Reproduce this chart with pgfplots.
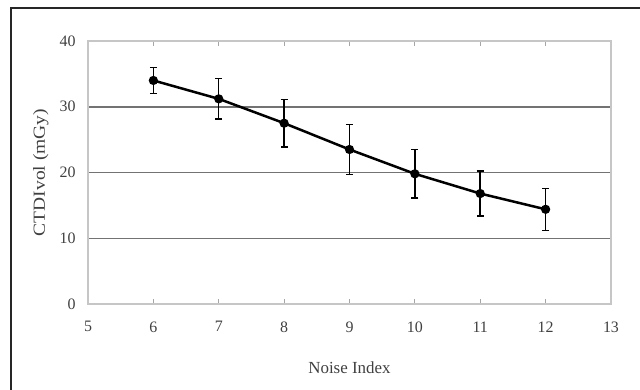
\documentclass[border=0pt]{standalone}
\usepackage{pgfplots}
\pgfplotsset{compat=1.18}
\usepackage{fontspec}
\setmainfont{Liberation Serif}
\begin{document}
\begin{tikzpicture}
\begin{axis}[
  anchor=south west, at={(0bp,0bp)},
  scale only axis, width=523bp, height=263bp,
  xmin=5, xmax=13, ymin=0, ymax=40,
  xtick={5,...,13}, ytick={0,10,...,40},
  ymajorgrids,
  grid style={black!55, line width=1.5bp},
  axis line style={gray!45, line width=1.5bp},
  xtick style={gray!70, line width=1bp},
  major tick length=5bp,
  tick align=inside,
  ytick style={draw=none},
  /pgf/number format/assume math mode=true,
  tick label style={black!75, font=\fontsize{16}{19}\selectfont},
  xticklabel style={yshift=-14bp},
  yticklabel style={xshift=-9bp},
  xlabel={Noise Index},
  ylabel={CTDIvol (mGy)},
  xlabel style={at={(axis description cs:0.5,-0.243)}, anchor=center, black!75, font=\fontsize{17}{20}\selectfont},
  ylabel style={at={(axis description cs:-0.09,0.5)}, anchor=center, black!75, font=\fontsize{17}{20}\selectfont, xscale=1.15},
]
\addplot[black, line width=2.5bp, mark=*, mark size=3.3bp,
  error bars/.cd, y dir=both, y explicit,
  error bar style={line width=1.5bp, black},
  error mark options={rotate=90, mark size=3.5bp, line width=1.5bp, black}]
  table[x=x, y=y, y error=e] {
x y e
6 34.0 2.0
7 31.2 3.1
8 27.5 3.6
9 23.5 3.8
10 19.8 3.7
11 16.8 3.4
12 14.4 3.2
};
\end{axis}
\draw[line width=1.5bp, black!85] (-77bp,-100bp) -- (-77bp,296bp) -- (570bp,296bp);
\pgfresetboundingbox
\useasboundingbox (-88bp,-86bp) rectangle (552bp,304bp);
\end{tikzpicture}
\end{document}
